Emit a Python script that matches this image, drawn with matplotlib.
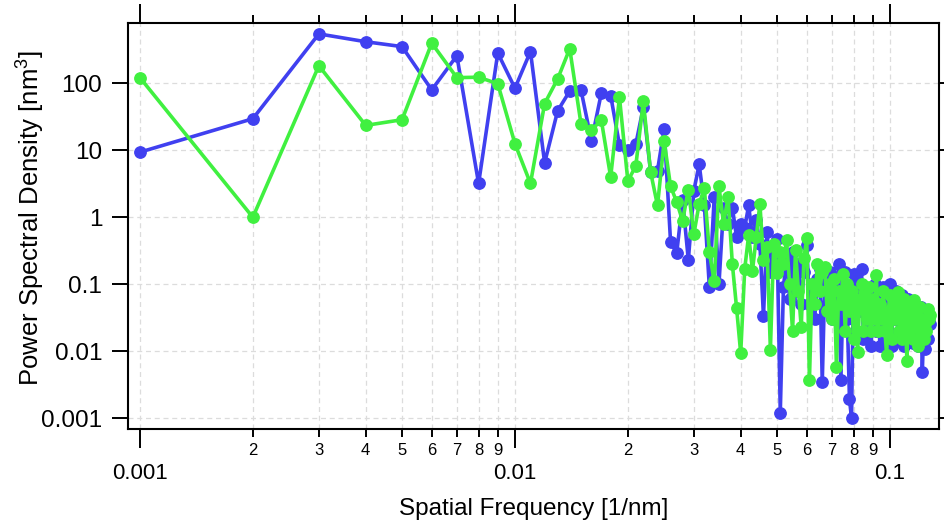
import numpy as np
from matplotlib import pyplot as plt
from matplotlib.ticker import LogLocator, FixedLocator, FuncFormatter, NullFormatter

plt.rcParams['font.family'] = ['Liberation Sans', 'DejaVu Sans']
plt.rcParams['mathtext.fontset'] = 'custom'
plt.rcParams['mathtext.rm'] = 'Liberation Sans'

# spatial frequency samples, 1/nm
freq = np.arange(1, 129) * 0.001

# PSD, nm^3
psd_blue = [
    9.4, 29.7, 550, 420, 355, 80, 260, 3.2, 285, 85,
    300, 6.5, 39, 77, 80, 13.8, 72, 66, 12, 10.2,
    12.3, 44, 4.8, 5.0, 21, 0.43, 0.29, 1.8, 0.23, 2.5,
    6.2, 1.5, 0.09, 2.0, 0.1, 1.4, 0.8, 1.4, 0.5, 0.8,
    0.7, 1.5, 0.5, 0.9, 0.4, 0.033, 0.6, 0.15, 0.3, 0.48,
    0.0012, 0.09, 0.25, 0.06, 0.3, 0.08, 0.2, 0.05, 0.15, 0.38,
    0.05, 0.1, 0.03, 0.12, 0.17, 0.0034, 0.1, 0.05, 0.15, 0.03,
    0.12, 0.06, 0.2, 0.0037, 0.08, 0.15, 0.03, 0.0019, 0.001, 0.14,
    0.02, 0.1, 0.04, 0.17, 0.015, 0.06, 0.02, 0.08, 0.012, 0.05,
    0.1, 0.02, 0.07, 0.012, 0.04, 0.09, 0.015, 0.06, 0.02, 0.1,
    0.012, 0.05, 0.03, 0.08, 0.015, 0.04, 0.02, 0.07, 0.012, 0.05,
    0.02, 0.06, 0.015, 0.04, 0.013, 0.05, 0.02, 0.035, 0.012, 0.03,
    0.046, 0.0049, 0.02, 0.0107, 0.03, 0.015, 0.035, 0.025,
]
psd_green = [
    122, 1.0, 184, 23.6, 28.7, 400, 122, 124, 99, 12.6,
    3.2, 50, 117, 330, 25, 20.4, 28, 4.0, 62, 3.5,
    5.8, 54, 4.75, 1.5, 13.8, 2.9, 1.7, 0.88, 2.6, 0.56,
    1.6, 2.7, 0.3, 0.11, 2.9, 0.8, 2.0, 0.2, 0.044, 0.0093,
    0.17, 0.54, 0.16, 0.5, 1.6, 0.23, 0.36, 0.0105, 0.4, 0.145,
    0.3, 0.2, 0.46, 0.1, 0.02, 0.32, 0.08, 0.023, 0.25, 0.49,
    0.0037, 0.1, 0.05, 0.2, 0.08, 0.15, 0.18, 0.04, 0.1, 0.03,
    0.12, 0.0058, 0.08, 0.05, 0.14, 0.02, 0.1, 0.04, 0.08, 0.015,
    0.06, 0.0097, 0.05, 0.1, 0.02, 0.07, 0.03, 0.09, 0.02, 0.06,
    0.03, 0.135, 0.02, 0.05, 0.03, 0.08, 0.02, 0.0087, 0.04, 0.07,
    0.015, 0.06, 0.03, 0.05, 0.077, 0.02, 0.04, 0.015, 0.06, 0.03,
    0.007, 0.05, 0.02, 0.04, 0.015, 0.058, 0.025, 0.035, 0.012, 0.045,
    0.02, 0.03, 0.015, 0.025, 0.02, 0.043, 0.03, 0.035,
]

major_x = [0.001, 0.01, 0.1]
major_x_labels = ['0.001', '0.01', '0.1']
major_y = [0.001, 0.01, 0.1, 1, 10, 100]
major_y_labels = ['0.001', '0.01', '0.1', '1', '10', '100']

fig = plt.figure(figsize=(9.45, 5.24), dpi=100)
ax = fig.add_axes([0.1354, 0.1813, 0.8583, 0.7748])

ax.plot(freq, psd_blue, '-o', color='#4040f0', lw=2.6, ms=8.2, zorder=3)
ax.plot(freq, psd_green, '-o', color='#40f040', lw=2.6, ms=8.2, zorder=4)

ax.set_xscale('log')
ax.set_yscale('log')
ax.set_xlim(0.000929, 0.1352)
ax.set_ylim(0.000686, 800)

ax.xaxis.set_major_locator(FixedLocator(major_x))
ax.set_xticklabels(major_x_labels, family=['Liberation Sans Narrow', 'Liberation Sans'], fontsize=16)
ax.xaxis.set_minor_locator(LogLocator(base=10, subs=range(2, 10), numticks=20))
ax.xaxis.set_minor_formatter(FuncFormatter(
    lambda v, p: '%d' % round(v / 10 ** np.floor(np.log10(v) + 1e-9))))

ax.yaxis.set_major_locator(FixedLocator(major_y))
ax.set_yticklabels(major_y_labels, fontsize=17.5)
ax.yaxis.set_minor_locator(FixedLocator([]))
ax.yaxis.set_minor_formatter(NullFormatter())

ax.tick_params(axis='x', which='major', direction='out', length=13.5, width=1.4,
               top=True, pad=11)
ax.tick_params(axis='x', which='minor', direction='out', length=6, width=1.4,
               top=True, pad=4, labelsize=12)
ax.tick_params(axis='y', which='major', direction='out', length=11.5, width=1.4,
               right=True, pad=7)
for lab in ax.xaxis.get_minorticklabels():
    lab.set_family(['Liberation Sans Narrow', 'Liberation Sans'])

for s in ax.spines.values():
    s.set_linewidth(1.5)

ax.grid(True, which='both', axis='x', color='#dcdcdc', ls=(0, (4, 3)), lw=0.9)
ax.grid(True, which='major', axis='y', color='#dcdcdc', ls=(0, (4, 3)), lw=0.9)
ax.set_axisbelow(True)

ax.set_xlabel('Spatial Frequency [1/nm]', fontsize=17.5, labelpad=10)
ax.set_ylabel(r'Power Spectral Density [nm$^3$]', fontsize=18.5)
ax.yaxis.set_label_coords(-0.101, 0.52)

fig.savefig('out.png', dpi=100)
